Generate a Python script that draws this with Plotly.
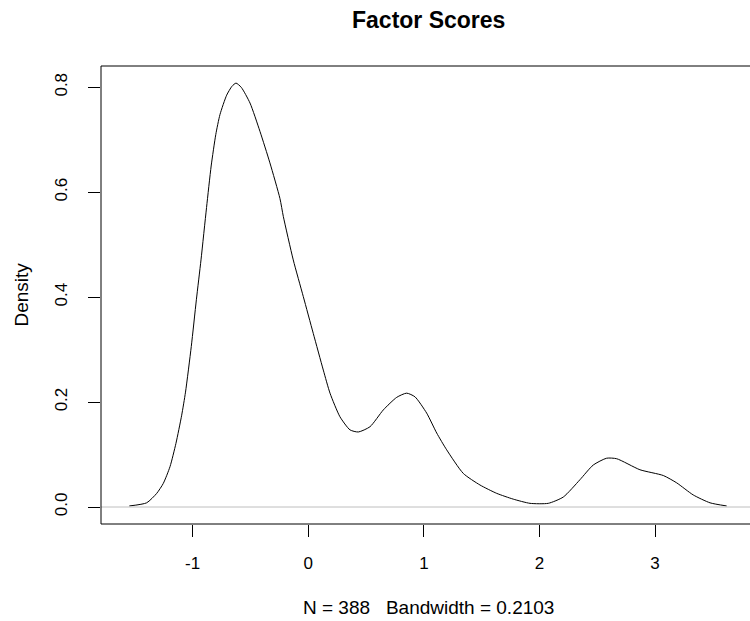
import plotly.graph_objects as go

# Density curve points
x_vals = [-1.548, -1.398, -1.311, -1.254, -1.196, -1.145, -1.095, -1.062, -1.012,
          -0.968, -0.928, -0.880, -0.840, -0.800, -0.764, -0.706, -0.660, -0.625, -0.580,
          -0.504, -0.418, -0.332, -0.245, -0.216, -0.130, -0.043, 0.043, 0.130, 0.188,
          0.274, 0.361, 0.433, 0.534, 0.649, 0.765, 0.851, 0.923, 1.024, 1.111,
          1.197, 1.341, 1.485, 1.630, 1.773, 1.918, 2.076, 2.206, 2.350, 2.465,
          2.581, 2.668, 2.869, 3.071, 3.187, 3.330, 3.475, 3.619]
y_vals = [0.002, 0.008, 0.026, 0.045, 0.077, 0.121, 0.175, 0.219, 0.306,
          0.395, 0.471, 0.571, 0.650, 0.710, 0.748, 0.785, 0.802, 0.808, 0.800,
          0.770, 0.716, 0.656, 0.588, 0.554, 0.471, 0.401, 0.331, 0.261, 0.217,
          0.172, 0.147, 0.143, 0.153, 0.185, 0.209, 0.217, 0.210, 0.179, 0.141,
          0.109, 0.064, 0.042, 0.026, 0.015, 0.007, 0.007, 0.019, 0.052, 0.080,
          0.093, 0.092, 0.071, 0.060, 0.046, 0.023, 0.008, 0.002]

x_ticks = [-1, 0, 1, 2, 3]
x_tick_text = ["-1", "0", "1", "2", "3"]
y_ticks = [0.0, 0.2, 0.4, 0.6, 0.8]
y_tick_text = ["0.0", "0.2", "0.4", "0.6", "0.8"]

title_text = "Factor Scores"
x_label = "N = 388   Bandwidth = 0.2103"
y_label = "Density"

FONT = "Liberation Sans, Arial, sans-serif"

fig = go.Figure()
fig.add_trace(go.Scatter(x=x_vals, y=y_vals, mode="lines",
                         line=dict(color="black", width=1, shape="spline", smoothing=0.6),
                         hoverinfo="skip", showlegend=False))

L, R, T, B = 101, 0, 66, 97
W, H = 750, 621
plot_w = W - L - R
plot_h = H - T - B

fig.update_layout(
    width=W, height=H,
    margin=dict(l=L, r=R, t=T, b=B),
    paper_bgcolor="white", plot_bgcolor="white",
    font=dict(family=FONT, color="black", size=17),
    showlegend=False,
    xaxis=dict(range=[-1.793, 3.821], tickmode="array", tickvals=x_ticks, ticktext=x_tick_text,
               ticks="outside", ticklen=12, tickcolor="black", tickwidth=1,
               showline=False, showgrid=False, zeroline=False,
               ticklabelstandoff=12, tickfont=dict(size=17)),
    yaxis=dict(range=[-0.0324, 0.8406], tickmode="array", tickvals=y_ticks, ticktext=y_tick_text,
               ticks="outside", ticklen=12, tickcolor="black", tickwidth=1,
               showline=False, showgrid=False, zeroline=False, tickangle=-90,
               ticklabelstandoff=14, tickfont=dict(size=17)),
    shapes=[
        dict(type="line", xref="paper", yref="y", x0=0, x1=1, y0=0, y1=0,
             line=dict(color="#bebebe", width=1)),
        dict(type="rect", xref="paper", yref="paper", x0=0, x1=(755 - L) / plot_w, y0=0, y1=1,
             line=dict(color="black", width=1)),
    ],
    annotations=[
        dict(text="<b>" + title_text + "</b>", xref="paper", yref="paper",
             x=(428 - L) / plot_w, y=(H - B - 20) / plot_h, xanchor="center", yanchor="middle",
             showarrow=False, font=dict(size=23, family=FONT)),
        dict(text=x_label, xref="paper", yref="paper",
             x=(428 - L) / plot_w, y=(H - B - 607) / plot_h, xanchor="center", yanchor="middle",
             showarrow=False, font=dict(size=19, family=FONT)),
        dict(text=y_label, xref="paper", yref="paper", textangle=-90,
             x=(20.5 - L) / plot_w, y=(H - B - 295) / plot_h, xanchor="center", yanchor="middle",
             showarrow=False, font=dict(size=19, family=FONT)),
    ],
)

fig.write_html("out.html")
